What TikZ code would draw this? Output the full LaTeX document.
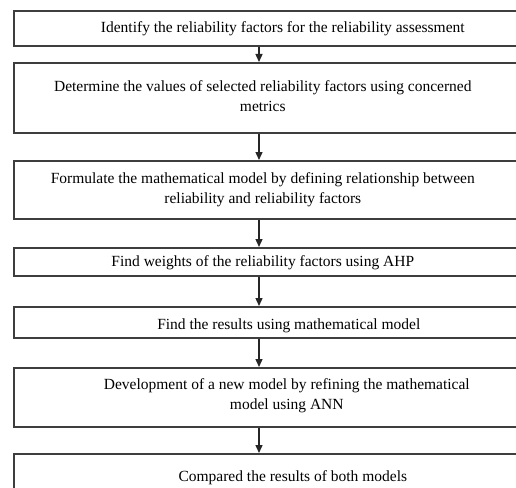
\documentclass[tikz,border=0pt]{standalone}
\usepackage{fontspec}
\setmainfont{Liberation Serif}
\usepackage{tikz}
\usetikzlibrary{
  arrows.meta, % Triangle 箭头
  calc         % 坐标计算
}
\definecolor{boxline}{RGB}{62,62,62}
\tikzset{
  stepbox/.style={
    draw=boxline,
    line width=1.6pt,
    anchor=north west,
    minimum width=560pt,
    inner sep=0pt
  },
  steptext/.style={
    align=center,
    inner sep=0pt,
    text=black,
    font=\fontsize{15.5}{20}\selectfont
  },
  flow/.style={
    -{Triangle[length=8pt, width=7pt]},
    line width=1.4pt,
    color=black!85
  }
}

\begin{document}
\begin{tikzpicture}[x=1pt, y=-1pt]
  % 画布范围（右侧方框被裁掉）
  \useasboundingbox (0,0) rectangle (516,487);
  \clip (0,0) rectangle (516,487);

  % 箭头所在的竖线
  \coordinate (ax) at (259,0);

  % ==== 1. 各步骤方框 ====
  \node[stepbox, minimum height=35pt,
    label={[steptext, xshift=-11pt]center:Identify the reliability factors for the reliability assessment}]
    (s1) at (13,10) {};
  \node[stepbox, minimum height=70pt,
    label={[steptext, xshift=-31pt, yshift=2pt]center:Determine the values of selected reliability factors using concerned\\metrics}]
    (s2) at (13,62) {};
  \node[stepbox, minimum height=58pt,
    label={[steptext, xshift=-31pt]center:Formulate the mathematical model by defining relationship between\\reliability and reliability factors}]
    (s3) at (13,160) {};
  \node[stepbox, minimum height=28pt,
    label={[steptext, xshift=-31pt, yshift=-1pt]center:Find weights of the reliability factors using AHP}]
    (s4) at (13,247) {};
  \node[stepbox, minimum height=31pt,
    label={[steptext, xshift=-5pt, yshift=-3pt]center:Find the results using mathematical model}]
    (s5) at (13,306) {};
  \node[stepbox, minimum height=59pt,
    label={[steptext, xshift=-7pt, yshift=2pt]center:Development of a new model by refining the mathematical\\model using ANN}]
    (s6) at (13,367) {};
  \node[stepbox, minimum height=47pt,
    label={[steptext, xshift=-1pt]center:Compared the results of both models}]
    (s7) at (13,453) {};

  % ==== 2. 步骤之间的箭头 ====
  \foreach \a/\b in {s1/s2, s2/s3, s3/s4, s4/s5, s5/s6, s6/s7}
    \draw[flow] (\a.south -| ax) -- (\b.north -| ax);
\end{tikzpicture}
\end{document}
